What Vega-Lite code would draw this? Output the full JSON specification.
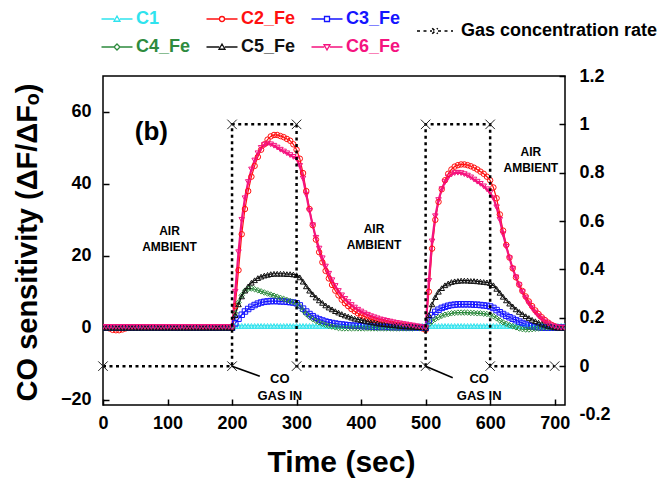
{
"$schema": "https://vega.github.io/schema/vega-lite/v6.json",
"width": 462, "height": 329,
"autosize": {"type": "none"},
"padding": {"left": 103, "top": 76, "right": 94, "bottom": 77},
"background": "white",
"config": {
 "view": {"stroke": "black", "strokeWidth": 1.5},
 "font": "Liberation Sans",
 "axis": {"domain": false, "grid": false, "tickSize": -6, "tickColor": "black", "tickWidth": 1.5,
  "labelFont": "Liberation Sans", "labelFontWeight": "bold", "labelFontSize": 18, "labelColor": "black", "labelFlush": false,
  "titleFont": "Liberation Sans", "titleFontWeight": "bold", "titleColor": "black"},
 "legend": {"padding": 0, "labelFont": "Liberation Sans", "labelFontWeight": "bold", "labelFontSize": 18}
},
"datasets": {
 "series": [
  {"t":0,"C1":0,"C2_Fe":0,"C3_Fe":0,"C4_Fe":0,"C5_Fe":0,"C6_Fe":0.2},
  {"t":5,"C1":0,"C2_Fe":0,"C3_Fe":0,"C4_Fe":0,"C5_Fe":0,"C6_Fe":0.2},
  {"t":10,"C1":0,"C2_Fe":-0.2,"C3_Fe":0,"C4_Fe":0,"C5_Fe":0,"C6_Fe":0.2},
  {"t":15,"C1":0,"C2_Fe":-0.6,"C3_Fe":0,"C4_Fe":0,"C5_Fe":0,"C6_Fe":0.2},
  {"t":20,"C1":0,"C2_Fe":-0.7,"C3_Fe":0,"C4_Fe":0,"C5_Fe":0,"C6_Fe":0.2},
  {"t":25,"C1":0,"C2_Fe":-0.7,"C3_Fe":0,"C4_Fe":0,"C5_Fe":0,"C6_Fe":0.2},
  {"t":30,"C1":0,"C2_Fe":-0.5,"C3_Fe":0,"C4_Fe":0,"C5_Fe":0,"C6_Fe":0.2},
  {"t":35,"C1":0,"C2_Fe":-0.2,"C3_Fe":0,"C4_Fe":0,"C5_Fe":0,"C6_Fe":0.2},
  {"t":40,"C1":0,"C2_Fe":0,"C3_Fe":0,"C4_Fe":0,"C5_Fe":0,"C6_Fe":0.2},
  {"t":45,"C1":0,"C2_Fe":0,"C3_Fe":0,"C4_Fe":0,"C5_Fe":0,"C6_Fe":0.2},
  {"t":50,"C1":0,"C2_Fe":0,"C3_Fe":0,"C4_Fe":0,"C5_Fe":0,"C6_Fe":0.2},
  {"t":55,"C1":0,"C2_Fe":0,"C3_Fe":0,"C4_Fe":0,"C5_Fe":0,"C6_Fe":0.2},
  {"t":60,"C1":0,"C2_Fe":0,"C3_Fe":0,"C4_Fe":0,"C5_Fe":0,"C6_Fe":0.2},
  {"t":65,"C1":0,"C2_Fe":0,"C3_Fe":0,"C4_Fe":0,"C5_Fe":0,"C6_Fe":0.2},
  {"t":70,"C1":0,"C2_Fe":0,"C3_Fe":0,"C4_Fe":0,"C5_Fe":0,"C6_Fe":0.2},
  {"t":75,"C1":0,"C2_Fe":0,"C3_Fe":0,"C4_Fe":0,"C5_Fe":0,"C6_Fe":0.2},
  {"t":80,"C1":0,"C2_Fe":0,"C3_Fe":0,"C4_Fe":0,"C5_Fe":0,"C6_Fe":0.2},
  {"t":85,"C1":0,"C2_Fe":0,"C3_Fe":0,"C4_Fe":0,"C5_Fe":0,"C6_Fe":0.2},
  {"t":90,"C1":0,"C2_Fe":0,"C3_Fe":0,"C4_Fe":0,"C5_Fe":0,"C6_Fe":0.2},
  {"t":95,"C1":0,"C2_Fe":0,"C3_Fe":0,"C4_Fe":0,"C5_Fe":0,"C6_Fe":0.2},
  {"t":100,"C1":0,"C2_Fe":0,"C3_Fe":0,"C4_Fe":0,"C5_Fe":0,"C6_Fe":0.2},
  {"t":105,"C1":0,"C2_Fe":0,"C3_Fe":0,"C4_Fe":0,"C5_Fe":0,"C6_Fe":0.2},
  {"t":110,"C1":0,"C2_Fe":0,"C3_Fe":0,"C4_Fe":0,"C5_Fe":0,"C6_Fe":0.2},
  {"t":115,"C1":0,"C2_Fe":0,"C3_Fe":0,"C4_Fe":0,"C5_Fe":0,"C6_Fe":0.2},
  {"t":120,"C1":0,"C2_Fe":0,"C3_Fe":0,"C4_Fe":0,"C5_Fe":0,"C6_Fe":0.2},
  {"t":125,"C1":0,"C2_Fe":0,"C3_Fe":0,"C4_Fe":0,"C5_Fe":0,"C6_Fe":0.2},
  {"t":130,"C1":0,"C2_Fe":0,"C3_Fe":0,"C4_Fe":0,"C5_Fe":0,"C6_Fe":0.2},
  {"t":135,"C1":0,"C2_Fe":0,"C3_Fe":0,"C4_Fe":0,"C5_Fe":0,"C6_Fe":0.2},
  {"t":140,"C1":0,"C2_Fe":0,"C3_Fe":0,"C4_Fe":0,"C5_Fe":0,"C6_Fe":0.2},
  {"t":145,"C1":0,"C2_Fe":0,"C3_Fe":0,"C4_Fe":0,"C5_Fe":0,"C6_Fe":0.2},
  {"t":150,"C1":0,"C2_Fe":0,"C3_Fe":0,"C4_Fe":0,"C5_Fe":0,"C6_Fe":0.2},
  {"t":155,"C1":0,"C2_Fe":0,"C3_Fe":0,"C4_Fe":0,"C5_Fe":0,"C6_Fe":0.2},
  {"t":160,"C1":0,"C2_Fe":0,"C3_Fe":0,"C4_Fe":0,"C5_Fe":0,"C6_Fe":0.2},
  {"t":165,"C1":0,"C2_Fe":0,"C3_Fe":0,"C4_Fe":0,"C5_Fe":0,"C6_Fe":0.2},
  {"t":170,"C1":0,"C2_Fe":0,"C3_Fe":0,"C4_Fe":0,"C5_Fe":0,"C6_Fe":0.2},
  {"t":175,"C1":0,"C2_Fe":0,"C3_Fe":0,"C4_Fe":0,"C5_Fe":0,"C6_Fe":0.2},
  {"t":180,"C1":0,"C2_Fe":0,"C3_Fe":0,"C4_Fe":0,"C5_Fe":0,"C6_Fe":0.2},
  {"t":185,"C1":0,"C2_Fe":0,"C3_Fe":0,"C4_Fe":0,"C5_Fe":0,"C6_Fe":0.2},
  {"t":190,"C1":0,"C2_Fe":0,"C3_Fe":0,"C4_Fe":0,"C5_Fe":0,"C6_Fe":0.2},
  {"t":195,"C1":0,"C2_Fe":0,"C3_Fe":0,"C4_Fe":0,"C5_Fe":0,"C6_Fe":0.2},
  {"t":200,"C1":0,"C2_Fe":0,"C3_Fe":0,"C4_Fe":0,"C5_Fe":0,"C6_Fe":0},
  {"t":205,"C1":0.5,"C2_Fe":6,"C3_Fe":1.2,"C4_Fe":4,"C5_Fe":3.5,"C6_Fe":10},
  {"t":210,"C1":0.5,"C2_Fe":16,"C3_Fe":2.5,"C4_Fe":7,"C5_Fe":6.5,"C6_Fe":21},
  {"t":215,"C1":0.5,"C2_Fe":26,"C3_Fe":3.6,"C4_Fe":9,"C5_Fe":8.7,"C6_Fe":30},
  {"t":220,"C1":0.5,"C2_Fe":33,"C3_Fe":4.5,"C4_Fe":10.3,"C5_Fe":10.3,"C6_Fe":36},
  {"t":225,"C1":0.5,"C2_Fe":38,"C3_Fe":5.2,"C4_Fe":10.8,"C5_Fe":11.5,"C6_Fe":40.5},
  {"t":230,"C1":0.5,"C2_Fe":42,"C3_Fe":5.8,"C4_Fe":10.9,"C5_Fe":12.5,"C6_Fe":44},
  {"t":235,"C1":0.5,"C2_Fe":45,"C3_Fe":6.3,"C4_Fe":10.7,"C5_Fe":13.2,"C6_Fe":46.5},
  {"t":240,"C1":0.5,"C2_Fe":47.5,"C3_Fe":6.7,"C4_Fe":10.4,"C5_Fe":13.8,"C6_Fe":48.5},
  {"t":245,"C1":0.5,"C2_Fe":49.5,"C3_Fe":7,"C4_Fe":10.1,"C5_Fe":14.2,"C6_Fe":50},
  {"t":250,"C1":0.5,"C2_Fe":51,"C3_Fe":7.2,"C4_Fe":9.8,"C5_Fe":14.5,"C6_Fe":50.8},
  {"t":255,"C1":0.5,"C2_Fe":52.3,"C3_Fe":7.3,"C4_Fe":9.5,"C5_Fe":14.7,"C6_Fe":51.2},
  {"t":260,"C1":0.5,"C2_Fe":53.2,"C3_Fe":7.4,"C4_Fe":9.2,"C5_Fe":14.9,"C6_Fe":51},
  {"t":265,"C1":0.5,"C2_Fe":53.6,"C3_Fe":7.4,"C4_Fe":8.9,"C5_Fe":15,"C6_Fe":50.6},
  {"t":270,"C1":0.5,"C2_Fe":53.6,"C3_Fe":7.4,"C4_Fe":8.6,"C5_Fe":15,"C6_Fe":50.1},
  {"t":275,"C1":0.5,"C2_Fe":53.3,"C3_Fe":7.3,"C4_Fe":8.3,"C5_Fe":15,"C6_Fe":49.5},
  {"t":280,"C1":0.5,"C2_Fe":53,"C3_Fe":7.3,"C4_Fe":8,"C5_Fe":15,"C6_Fe":49},
  {"t":285,"C1":0.5,"C2_Fe":52.5,"C3_Fe":7.2,"C4_Fe":7.7,"C5_Fe":14.9,"C6_Fe":48.5},
  {"t":290,"C1":0.5,"C2_Fe":52,"C3_Fe":7.1,"C4_Fe":7.4,"C5_Fe":14.9,"C6_Fe":48},
  {"t":295,"C1":0.5,"C2_Fe":51,"C3_Fe":7,"C4_Fe":7.1,"C5_Fe":14.8,"C6_Fe":47.5},
  {"t":300,"C1":0.5,"C2_Fe":49.5,"C3_Fe":6.8,"C4_Fe":6.8,"C5_Fe":14.6,"C6_Fe":47},
  {"t":305,"C1":0.5,"C2_Fe":47,"C3_Fe":6.2,"C4_Fe":6,"C5_Fe":14,"C6_Fe":45},
  {"t":310,"C1":0.5,"C2_Fe":43,"C3_Fe":5.3,"C4_Fe":4.8,"C5_Fe":12.8,"C6_Fe":41.5},
  {"t":315,"C1":0.5,"C2_Fe":38,"C3_Fe":4.5,"C4_Fe":3.8,"C5_Fe":11.5,"C6_Fe":37},
  {"t":320,"C1":0.5,"C2_Fe":33,"C3_Fe":3.8,"C4_Fe":3,"C5_Fe":10.3,"C6_Fe":32.5},
  {"t":325,"C1":0.5,"C2_Fe":28.5,"C3_Fe":3.2,"C4_Fe":2.4,"C5_Fe":9.3,"C6_Fe":28.5},
  {"t":330,"C1":0.5,"C2_Fe":24.5,"C3_Fe":2.7,"C4_Fe":1.9,"C5_Fe":8.4,"C6_Fe":25},
  {"t":335,"C1":0.5,"C2_Fe":21,"C3_Fe":2.3,"C4_Fe":1.5,"C5_Fe":7.6,"C6_Fe":22},
  {"t":340,"C1":0.5,"C2_Fe":18.2,"C3_Fe":2,"C4_Fe":1.1,"C5_Fe":6.9,"C6_Fe":19.3},
  {"t":345,"C1":0.5,"C2_Fe":15.8,"C3_Fe":1.7,"C4_Fe":0.8,"C5_Fe":6.2,"C6_Fe":17},
  {"t":350,"C1":0.5,"C2_Fe":13.7,"C3_Fe":1.5,"C4_Fe":0.5,"C5_Fe":5.6,"C6_Fe":15},
  {"t":355,"C1":0.5,"C2_Fe":11.9,"C3_Fe":1.3,"C4_Fe":0.3,"C5_Fe":5.1,"C6_Fe":13.2},
  {"t":360,"C1":0.5,"C2_Fe":10.3,"C3_Fe":1.15,"C4_Fe":0.1,"C5_Fe":4.6,"C6_Fe":11.6},
  {"t":365,"C1":0.5,"C2_Fe":9,"C3_Fe":1,"C4_Fe":-0.1,"C5_Fe":4.2,"C6_Fe":10.2},
  {"t":370,"C1":0.5,"C2_Fe":7.8,"C3_Fe":0.9,"C4_Fe":-0.2,"C5_Fe":3.8,"C6_Fe":9},
  {"t":375,"C1":0.5,"C2_Fe":6.8,"C3_Fe":0.8,"C4_Fe":-0.2,"C5_Fe":3.4,"C6_Fe":8},
  {"t":380,"C1":0.5,"C2_Fe":6,"C3_Fe":0.7,"C4_Fe":-0.2,"C5_Fe":3.1,"C6_Fe":7.1},
  {"t":385,"C1":0.5,"C2_Fe":5.2,"C3_Fe":0.6,"C4_Fe":-0.2,"C5_Fe":2.8,"C6_Fe":6.3},
  {"t":390,"C1":0.5,"C2_Fe":4.6,"C3_Fe":0.55,"C4_Fe":-0.2,"C5_Fe":2.5,"C6_Fe":5.6},
  {"t":395,"C1":0.5,"C2_Fe":4,"C3_Fe":0.5,"C4_Fe":-0.2,"C5_Fe":2.3,"C6_Fe":5},
  {"t":400,"C1":0.5,"C2_Fe":3.5,"C3_Fe":0.45,"C4_Fe":-0.2,"C5_Fe":2.1,"C6_Fe":4.5},
  {"t":405,"C1":0.5,"C2_Fe":3.1,"C3_Fe":0.4,"C4_Fe":-0.2,"C5_Fe":1.9,"C6_Fe":4},
  {"t":410,"C1":0.5,"C2_Fe":2.7,"C3_Fe":0.35,"C4_Fe":-0.2,"C5_Fe":1.7,"C6_Fe":3.6},
  {"t":415,"C1":0.5,"C2_Fe":2.4,"C3_Fe":0.3,"C4_Fe":-0.2,"C5_Fe":1.5,"C6_Fe":3.2},
  {"t":420,"C1":0.5,"C2_Fe":2.1,"C3_Fe":0.25,"C4_Fe":-0.2,"C5_Fe":1.4,"C6_Fe":2.9},
  {"t":425,"C1":0.5,"C2_Fe":1.8,"C3_Fe":0.2,"C4_Fe":-0.2,"C5_Fe":1.2,"C6_Fe":2.6},
  {"t":430,"C1":0.5,"C2_Fe":1.6,"C3_Fe":0.2,"C4_Fe":-0.2,"C5_Fe":1.1,"C6_Fe":2.3},
  {"t":435,"C1":0.5,"C2_Fe":1.4,"C3_Fe":0.2,"C4_Fe":-0.2,"C5_Fe":1,"C6_Fe":2.1},
  {"t":440,"C1":0.5,"C2_Fe":1.2,"C3_Fe":0.2,"C4_Fe":-0.2,"C5_Fe":0.9,"C6_Fe":1.9},
  {"t":445,"C1":0.5,"C2_Fe":1.05,"C3_Fe":0.15,"C4_Fe":-0.2,"C5_Fe":0.8,"C6_Fe":1.7},
  {"t":450,"C1":0.5,"C2_Fe":0.9,"C3_Fe":0.15,"C4_Fe":-0.2,"C5_Fe":0.7,"C6_Fe":1.5},
  {"t":455,"C1":0.5,"C2_Fe":0.8,"C3_Fe":0.1,"C4_Fe":-0.2,"C5_Fe":0.6,"C6_Fe":1.3},
  {"t":460,"C1":0.5,"C2_Fe":0.7,"C3_Fe":0.1,"C4_Fe":-0.2,"C5_Fe":0.5,"C6_Fe":1.2},
  {"t":465,"C1":0.5,"C2_Fe":0.6,"C3_Fe":0.1,"C4_Fe":-0.2,"C5_Fe":0.4,"C6_Fe":1},
  {"t":470,"C1":0.5,"C2_Fe":0.5,"C3_Fe":0.05,"C4_Fe":-0.2,"C5_Fe":0.35,"C6_Fe":0.9},
  {"t":475,"C1":0.5,"C2_Fe":0.4,"C3_Fe":0.05,"C4_Fe":-0.2,"C5_Fe":0.3,"C6_Fe":0.7},
  {"t":480,"C1":0.5,"C2_Fe":0.3,"C3_Fe":0,"C4_Fe":-0.2,"C5_Fe":0.25,"C6_Fe":0.6},
  {"t":485,"C1":0.5,"C2_Fe":0.2,"C3_Fe":0,"C4_Fe":-0.1,"C5_Fe":0.2,"C6_Fe":0.4},
  {"t":490,"C1":0.5,"C2_Fe":0.1,"C3_Fe":0,"C4_Fe":-0.1,"C5_Fe":0.15,"C6_Fe":0.3},
  {"t":495,"C1":0.5,"C2_Fe":-0.2,"C3_Fe":0,"C4_Fe":0,"C5_Fe":0.1,"C6_Fe":0.1},
  {"t":500,"C1":0.5,"C2_Fe":-0.6,"C3_Fe":0,"C4_Fe":0,"C5_Fe":0,"C6_Fe":0},
  {"t":505,"C1":0.5,"C2_Fe":10,"C3_Fe":2,"C4_Fe":1,"C5_Fe":3.5,"C6_Fe":13},
  {"t":510,"C1":0.5,"C2_Fe":22,"C3_Fe":3.5,"C4_Fe":1.8,"C5_Fe":6.5,"C6_Fe":24},
  {"t":515,"C1":0.5,"C2_Fe":30,"C3_Fe":4.4,"C4_Fe":2.4,"C5_Fe":8.5,"C6_Fe":31},
  {"t":520,"C1":0.5,"C2_Fe":35,"C3_Fe":5,"C4_Fe":2.9,"C5_Fe":10,"C6_Fe":35.5},
  {"t":525,"C1":0.5,"C2_Fe":38.5,"C3_Fe":5.5,"C4_Fe":3.3,"C5_Fe":11,"C6_Fe":38.5},
  {"t":530,"C1":0.5,"C2_Fe":41,"C3_Fe":5.8,"C4_Fe":3.6,"C5_Fe":11.8,"C6_Fe":40.5},
  {"t":535,"C1":0.5,"C2_Fe":42.8,"C3_Fe":6.1,"C4_Fe":3.8,"C5_Fe":12.3,"C6_Fe":41.8},
  {"t":540,"C1":0.5,"C2_Fe":44,"C3_Fe":6.3,"C4_Fe":4,"C5_Fe":12.7,"C6_Fe":42.6},
  {"t":545,"C1":0.5,"C2_Fe":44.8,"C3_Fe":6.4,"C4_Fe":4.1,"C5_Fe":12.9,"C6_Fe":43},
  {"t":550,"C1":0.5,"C2_Fe":45.2,"C3_Fe":6.5,"C4_Fe":4.2,"C5_Fe":13,"C6_Fe":43.1},
  {"t":555,"C1":0.5,"C2_Fe":45.4,"C3_Fe":6.5,"C4_Fe":4.2,"C5_Fe":13.1,"C6_Fe":43},
  {"t":560,"C1":0.5,"C2_Fe":45.4,"C3_Fe":6.5,"C4_Fe":4.2,"C5_Fe":13.1,"C6_Fe":42.7},
  {"t":565,"C1":0.5,"C2_Fe":45.2,"C3_Fe":6.5,"C4_Fe":4.2,"C5_Fe":13.1,"C6_Fe":42.3},
  {"t":570,"C1":0.5,"C2_Fe":44.9,"C3_Fe":6.5,"C4_Fe":4.1,"C5_Fe":13,"C6_Fe":41.8},
  {"t":575,"C1":0.5,"C2_Fe":44.5,"C3_Fe":6.4,"C4_Fe":4.1,"C5_Fe":13,"C6_Fe":41.2},
  {"t":580,"C1":0.5,"C2_Fe":44,"C3_Fe":6.4,"C4_Fe":4,"C5_Fe":12.9,"C6_Fe":40.6},
  {"t":585,"C1":0.5,"C2_Fe":43.4,"C3_Fe":6.3,"C4_Fe":4,"C5_Fe":12.8,"C6_Fe":40},
  {"t":590,"C1":0.5,"C2_Fe":42.8,"C3_Fe":6.2,"C4_Fe":3.9,"C5_Fe":12.7,"C6_Fe":39.3},
  {"t":595,"C1":0.5,"C2_Fe":42,"C3_Fe":6.1,"C4_Fe":3.8,"C5_Fe":12.6,"C6_Fe":38.5},
  {"t":600,"C1":0.5,"C2_Fe":41,"C3_Fe":5.9,"C4_Fe":3.6,"C5_Fe":12.4,"C6_Fe":37.5},
  {"t":605,"C1":0.5,"C2_Fe":39,"C3_Fe":5.5,"C4_Fe":3.2,"C5_Fe":11.8,"C6_Fe":36},
  {"t":610,"C1":0.5,"C2_Fe":36,"C3_Fe":4.9,"C4_Fe":2.6,"C5_Fe":10.8,"C6_Fe":33.5},
  {"t":615,"C1":0.5,"C2_Fe":31.5,"C3_Fe":4.3,"C4_Fe":2,"C5_Fe":9.7,"C6_Fe":30},
  {"t":620,"C1":0.5,"C2_Fe":27,"C3_Fe":3.8,"C4_Fe":1.5,"C5_Fe":8.6,"C6_Fe":26},
  {"t":625,"C1":0.5,"C2_Fe":23,"C3_Fe":3.3,"C4_Fe":1.1,"C5_Fe":7.6,"C6_Fe":22.5},
  {"t":630,"C1":0.5,"C2_Fe":19.5,"C3_Fe":2.9,"C4_Fe":0.7,"C5_Fe":6.7,"C6_Fe":19.3},
  {"t":635,"C1":0.5,"C2_Fe":16.5,"C3_Fe":2.5,"C4_Fe":0.4,"C5_Fe":5.9,"C6_Fe":16.4},
  {"t":640,"C1":0.5,"C2_Fe":14,"C3_Fe":2.1,"C4_Fe":0.1,"C5_Fe":5.1,"C6_Fe":14},
  {"t":645,"C1":0.5,"C2_Fe":12,"C3_Fe":1.7,"C4_Fe":-0.2,"C5_Fe":4.4,"C6_Fe":11.8},
  {"t":650,"C1":0.5,"C2_Fe":10.2,"C3_Fe":1.3,"C4_Fe":-0.4,"C5_Fe":3.8,"C6_Fe":9.9},
  {"t":655,"C1":0.5,"C2_Fe":8.7,"C3_Fe":0.9,"C4_Fe":-0.5,"C5_Fe":3.2,"C6_Fe":8.2},
  {"t":660,"C1":0.5,"C2_Fe":7.3,"C3_Fe":0.6,"C4_Fe":-0.5,"C5_Fe":2.7,"C6_Fe":6.7},
  {"t":665,"C1":0.5,"C2_Fe":6,"C3_Fe":0.4,"C4_Fe":-0.4,"C5_Fe":2.2,"C6_Fe":5.4},
  {"t":670,"C1":0.5,"C2_Fe":4.8,"C3_Fe":0.2,"C4_Fe":-0.3,"C5_Fe":1.8,"C6_Fe":4.2},
  {"t":675,"C1":0.5,"C2_Fe":3.8,"C3_Fe":0.1,"C4_Fe":-0.2,"C5_Fe":1.4,"C6_Fe":3.2},
  {"t":680,"C1":0.5,"C2_Fe":2.9,"C3_Fe":0,"C4_Fe":-0.1,"C5_Fe":1.1,"C6_Fe":2.4},
  {"t":685,"C1":0.5,"C2_Fe":2.1,"C3_Fe":0,"C4_Fe":0,"C5_Fe":0.8,"C6_Fe":1.7},
  {"t":690,"C1":0.5,"C2_Fe":1.4,"C3_Fe":0,"C4_Fe":0,"C5_Fe":0.5,"C6_Fe":1.1},
  {"t":695,"C1":0.5,"C2_Fe":0.8,"C3_Fe":0,"C4_Fe":0,"C5_Fe":0.3,"C6_Fe":0.6},
  {"t":700,"C1":0.5,"C2_Fe":0.4,"C3_Fe":0,"C4_Fe":0,"C5_Fe":0.1,"C6_Fe":0.3},
  {"t":705,"C1":0.5,"C2_Fe":0.1,"C3_Fe":0,"C4_Fe":0,"C5_Fe":0,"C6_Fe":0.1},
  {"t":710,"C1":0.5,"C2_Fe":0,"C3_Fe":0,"C4_Fe":0,"C5_Fe":0,"C6_Fe":0},
  {"t":715,"C1":0.5,"C2_Fe":0,"C3_Fe":0,"C4_Fe":0,"C5_Fe":0,"C6_Fe":0}
 ],
 "gas": [
  {"t":0,"g":0,"k":1,"name":"Gas concentration rate"},
  {"t":200,"g":0,"k":2,"name":"Gas concentration rate"},
  {"t":200,"g":1,"k":3,"name":"Gas concentration rate"},
  {"t":300,"g":1,"k":4,"name":"Gas concentration rate"},
  {"t":300,"g":0,"k":5,"name":"Gas concentration rate"},
  {"t":500,"g":0,"k":6,"name":"Gas concentration rate"},
  {"t":500,"g":1,"k":7,"name":"Gas concentration rate"},
  {"t":600,"g":1,"k":8,"name":"Gas concentration rate"},
  {"t":600,"g":0,"k":9,"name":"Gas concentration rate"},
  {"t":700,"g":0,"k":10,"name":"Gas concentration rate"}
 ],
 "airnotes": [
  {"t":103,"v":27,"label":"AIR\nAMBIENT"},
  {"t":420,"v":27.5,"label":"AIR\nAMBIENT"},
  {"t":663,"v":49,"label":"AIR\nAMBIENT"}
 ],
 "panel": [{"t":75,"v":54.5,"label":"(b)"}],
 "gasnotes": [
  {"t":274,"g":-0.052,"label":"CO\nGAS IN"},
  {"t":583,"g":-0.052,"label":"CO\nGAS IN"}
 ],
 "leaders": [
  {"t":200,"g":0,"t2":243,"g2":-0.042},
  {"t":500,"g":0,"t2":542,"g2":-0.048}
 ]
},
"layer": [
 {"layer": [
  {"data": {"name": "series"},
   "transform": [{"fold": ["C1","C2_Fe","C3_Fe","C4_Fe","C5_Fe","C6_Fe"], "as": ["series","v"]}],
   "mark": {"type": "line", "clip": true},
   "encoding": {
    "x": {"field": "t", "type": "quantitative", "scale": {"domain": [0,716], "nice": false, "zero": false},
      "axis": {"values": [0,100,200,300,400,500,600,700], "labelPadding": 15, "title": "Time (sec)", "titleFontSize": 30, "titleX": 238, "titleY": 57, "titleAlign": "center", "titleBaseline": "middle"}},
    "y": {"field": "v", "type": "quantitative", "scale": {"domain": [-21.5,70], "nice": false, "zero": false},
      "axis": {"values": [-20,0,20,40,60], "labelPadding": 18, "title": "CO sensitivity (ΔF/ΔFₒ)", "titleFontSize": 29, "titleX": -76, "titleY": 166, "titleAngle": -90, "titleAlign": "center", "titleBaseline": "middle"}},
    "color": {"field": "series", "type": "nominal",
      "scale": {"domain": ["C1","C2_Fe","C3_Fe","C4_Fe","C5_Fe","C6_Fe"], "range": ["#2fe3ee","#ff1010","#1515ff","#2e8b3e","#111111","#f5137f"]},
      "legend": {"title": null, "orient": "none", "direction": "horizontal", "legendX": 5, "legendY": -66, "columns": 3, "columnPadding": 12, "rowPadding": 10, "labelOffset": 10, "symbolSize": 100, "symbolOpacity": 1, "symbolStrokeWidth": 1.3,
        "encode": {"labels": {"update": {"fill": {"scale": "color", "field": "value"}}}}}},
    "strokeWidth": {"condition": {"test": "datum.series === 'C6_Fe'", "value": 2.2}, "value": 1.2}
   }},
  {"data": {"name": "series"},
   "transform": [{"fold": ["C1"], "as": ["series","v"]}],
   "mark": {"type": "point", "shape": "triangle-up", "filled": false, "size": 30, "strokeWidth": 1, "opacity": 1, "clip": true},
   "encoding": {"x": {"field": "t", "type": "quantitative"}, "y": {"field": "v", "type": "quantitative"}, "color": {"field": "series", "type": "nominal"}}},
  {"data": {"name": "series"},
   "transform": [{"fold": ["C2_Fe"], "as": ["series","v"]}],
   "mark": {"type": "point", "shape": "circle", "filled": false, "size": 30, "strokeWidth": 1, "opacity": 1, "clip": true},
   "encoding": {"x": {"field": "t", "type": "quantitative"}, "y": {"field": "v", "type": "quantitative"}, "color": {"field": "series", "type": "nominal"}}},
  {"data": {"name": "series"},
   "transform": [{"fold": ["C3_Fe"], "as": ["series","v"]}],
   "mark": {"type": "point", "shape": "square", "filled": false, "size": 30, "strokeWidth": 1, "opacity": 1, "clip": true},
   "encoding": {"x": {"field": "t", "type": "quantitative"}, "y": {"field": "v", "type": "quantitative"}, "color": {"field": "series", "type": "nominal"}}},
  {"data": {"name": "series"},
   "transform": [{"fold": ["C4_Fe"], "as": ["series","v"]}],
   "mark": {"type": "point", "shape": "diamond", "filled": false, "size": 30, "strokeWidth": 1, "opacity": 1, "clip": true},
   "encoding": {"x": {"field": "t", "type": "quantitative"}, "y": {"field": "v", "type": "quantitative"}, "color": {"field": "series", "type": "nominal"}}},
  {"data": {"name": "series"},
   "transform": [{"fold": ["C5_Fe"], "as": ["series","v"]}],
   "mark": {"type": "point", "shape": "triangle-up", "filled": false, "size": 30, "strokeWidth": 1, "opacity": 1, "clip": true},
   "encoding": {"x": {"field": "t", "type": "quantitative"}, "y": {"field": "v", "type": "quantitative"}, "color": {"field": "series", "type": "nominal"}}},
  {"data": {"name": "series"},
   "transform": [{"fold": ["C6_Fe"], "as": ["series","v"]}],
   "mark": {"type": "point", "shape": "triangle-down", "filled": false, "size": 30, "strokeWidth": 1, "opacity": 1, "clip": true},
   "encoding": {"x": {"field": "t", "type": "quantitative"}, "y": {"field": "v", "type": "quantitative"}, "color": {"field": "series", "type": "nominal"}}},
  {"data": {"name": "series"},
   "transform": [{"filter": "datum.t === 0"}, {"fold": ["C1","C2_Fe","C3_Fe","C4_Fe","C5_Fe","C6_Fe"], "as": ["series","v"]}],
   "mark": {"type": "point", "filled": false, "opacity": 0, "size": 30},
   "encoding": {"x": {"field": "t", "type": "quantitative"}, "y": {"field": "v", "type": "quantitative"},
     "color": {"field": "series", "type": "nominal"},
     "shape": {"field": "series", "type": "nominal",
       "scale": {"domain": ["C1","C2_Fe","C3_Fe","C4_Fe","C5_Fe","C6_Fe"],
         "range": ["M-3.1,0H-0.55M0.55,0H3.1M0,-0.6L0.6,0.45L-0.6,0.45Z",
                   "M-3.1,0H-0.5M0.5,0H3.1M-0.5,0A0.5,0.5,0,1,0,0.5,0A0.5,0.5,0,1,0,-0.5,0Z",
                   "M-3.1,0H-0.5M0.5,0H3.1M-0.5,-0.5H0.5V0.5H-0.5Z",
                   "M-3.1,0H-0.6M0.6,0H3.1M0,-0.6L0.6,0L0,0.6L-0.6,0Z",
                   "M-3.1,0H-0.55M0.55,0H3.1M0,-0.6L0.6,0.45L-0.6,0.45Z",
                   "M-3.1,0H-0.55M0.55,0H3.1M0,0.6L0.6,-0.45L-0.6,-0.45Z"]}}}},
  {"data": {"name": "panel"},
   "mark": {"type": "text", "font": "Liberation Sans", "fontWeight": "bold", "fontSize": 26, "color": "black", "align": "center", "baseline": "middle"},
   "encoding": {"x": {"field": "t", "type": "quantitative"}, "y": {"field": "v", "type": "quantitative"}, "text": {"field": "label"}}},
  {"data": {"name": "airnotes"},
   "mark": {"type": "text", "font": "Liberation Sans", "fontWeight": "bold", "fontSize": 12, "lineHeight": 16, "lineBreak": "\n", "color": "black", "align": "center", "baseline": "middle"},
   "encoding": {"x": {"field": "t", "type": "quantitative"}, "y": {"field": "v", "type": "quantitative"}, "text": {"field": "label"}}}
 ]},
 {"layer": [
  {"data": {"name": "gas"},
   "mark": {"type": "line", "color": "black", "strokeWidth": 2.5, "strokeCap": "butt"},
   "encoding": {
    "x": {"field": "t", "type": "quantitative"},
    "y": {"field": "g", "type": "quantitative", "scale": {"domain": [-0.2,1.2], "range": [338.5,0], "nice": false, "zero": false},
      "axis": {"orient": "right", "values": [-0.2,0,0.2,0.4,0.6,0.8,1,1.2], "labelExpr": "'' + datum.value", "labelPadding": 20, "title": null,
        "tickOpacity": {"condition": {"test": "datum.value < -0.1", "value": 0}, "value": 1}}},
    "order": {"field": "k", "type": "quantitative"},
    "strokeDash": {"field": "name", "type": "nominal",
      "scale": {"domain": ["Gas concentration rate"], "range": [[3,3.5]]},
      "legend": {"title": null, "orient": "none", "legendX": 323, "legendY": -54, "labelOffset": 17, "labelLimit": 400, "symbolSize": 100,
        "symbolType": "M-3.6,0H-0.6M0.6,0H3.6M-0.55,-0.55L0.55,0.55M-0.55,0.55L0.55,-0.55",
        "symbolDash": [2,2], "symbolStrokeColor": "black", "symbolStrokeWidth": 1.6, "symbolFillColor": "transparent", "symbolOpacity": 1,
        "encode": {"labels": {"update": {"fill": {"value": "black"}}}}}}
   }},
  {"data": {"name": "gas"},
   "mark": {"type": "point", "shape": "M-1,-1L1,1M-1,1L1,-1", "filled": false, "size": 90, "stroke": "#222222", "strokeWidth": 1, "opacity": 1},
   "encoding": {"x": {"field": "t", "type": "quantitative"}, "y": {"field": "g", "type": "quantitative"}}},
  {"data": {"name": "leaders"},
   "mark": {"type": "rule", "color": "black", "strokeWidth": 1.6},
   "encoding": {"x": {"field": "t", "type": "quantitative"}, "y": {"field": "g", "type": "quantitative"}, "x2": {"field": "t2"}, "y2": {"field": "g2"}}},
  {"data": {"name": "gasnotes"},
   "mark": {"type": "text", "font": "Liberation Sans", "fontWeight": "bold", "fontSize": 13, "lineHeight": 17, "lineBreak": "\n", "color": "black", "align": "center", "baseline": "middle"},
   "encoding": {"x": {"field": "t", "type": "quantitative"}, "y": {"field": "g", "type": "quantitative"}, "text": {"field": "label"}}}
 ]}
],
"resolve": {"scale": {"y": "independent"}}
}
